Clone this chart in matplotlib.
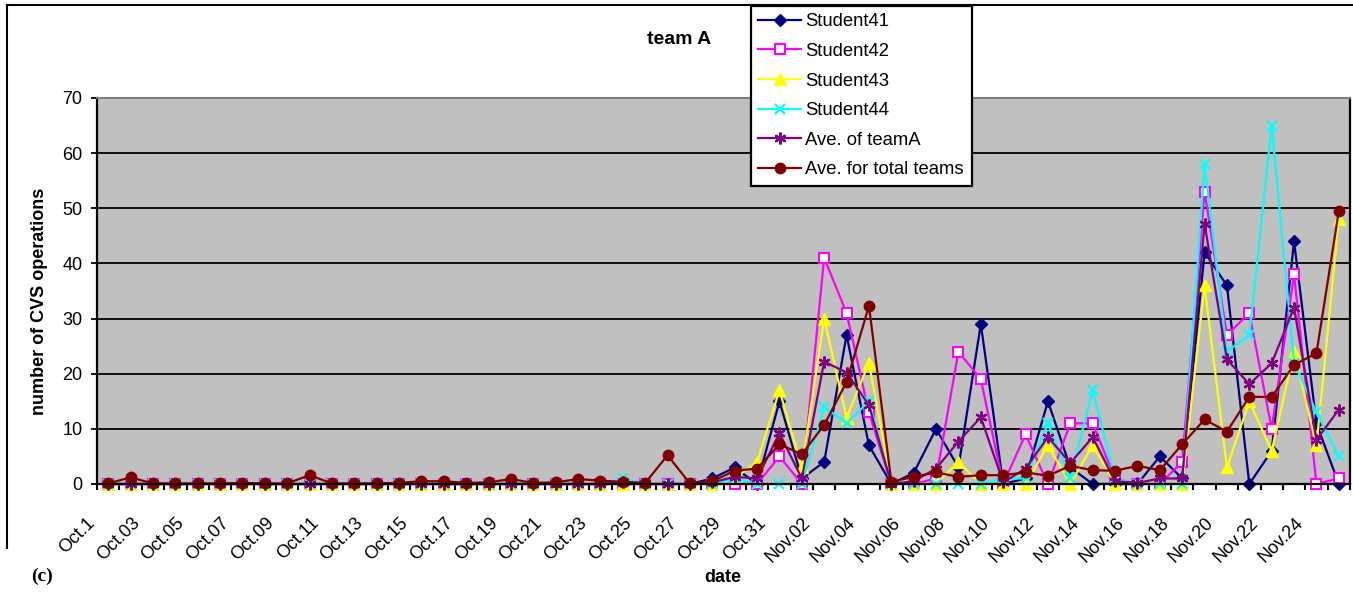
import numpy as np
import matplotlib.pyplot as plt
import matplotlib.transforms as mtransforms
from matplotlib.lines import Line2D

plt.rcParams['font.family'] = ['Liberation Sans', 'DejaVu Sans']

# daily CVS operations, Oct.1 .. Nov.25 (56 days)
student41 = [0, 0, 0, 0, 0, 0, 0, 0, 0, 0, 0, 0, 0, 0, 0, 0, 0, 0, 0, 0,
             0, 0, 0, 0, 0, 0, 0, 1, 3, 0, 15, 1, 4, 27, 7, 0, 2, 10, 3, 29,
             0, 1, 15, 3, 0, 0, 0, 5, 1, 42, 36, 0, 6, 44, 11, 0]
student42 = [0, 0, 0, 0, 0, 0, 0, 0, 0, 0, 0, 0, 0, 0, 0, 0, 0, 0, 0, 0,
             0, 0, 0, 0, 0, 0, 0, 0, 0, 0, 5, 0, 41, 31, 13, 0, 0, 1, 24, 19,
             0, 9, 0, 11, 11, 1, 0, 0, 4, 53, 27, 31, 10, 38, 0, 1]
student43 = [0, 0, 0, 0, 0, 0, 0, 0, 0, 0, 0, 0, 0, 0, 0, 0, 0, 0, 0, 0,
             0, 0, 0, 0, 0, 0, 0, 0, 1, 4, 17, 3, 30, 12, 22, 0, 0, 0, 4, 0,
             0, 0, 7, 0, 7, 0, 0, 0, 0, 36, 3, 15, 6, 24, 7, 48]
student44 = [0, 0, 0, 0, 0, 0, 0, 0, 0, 0, 0, 0, 0, 0, 0, 0, 0, 0, 0, 0,
             0, 0, 0, 1, 0, 0, 0, 0, 1, 0, 0, 0, 14, 11, 15, 0, 0, 0, 0, 0,
             1, 1, 11, 1, 17, 1, 0, 0, 0, 58, 24, 27, 65, 22, 13, 5]
ave_team_a = [0, 0, 0, 0, 0, 0, 0, 0, 0, 0, 0, 0, 0, 0, 0, 0, 0, 0, 0, 0,
              0, 0, 0, 0.3, 0, 0, 0, 0.3, 1.3, 1.0, 9.2, 1.0, 22.2, 20.2, 14.3, 0, 0.5, 2.8, 7.7, 12.1,
              0.3, 2.8, 8.5, 3.8, 8.5, 0.5, 0.2, 1.0, 1.0, 47.2, 22.6, 18.1, 21.9, 32.0, 8.0, 13.5]
ave_total = [0.1, 1.2, 0.1, 0.1, 0.1, 0.1, 0.2, 0.1, 0.1, 1.6, 0.1, 0.1, 0.1, 0.2, 0.5, 0.5, 0.2, 0.3, 0.9, 0.2,
             0.3, 0.9, 0.6, 0.4, 0.2, 5.2, 0.1, 0.5, 2.4, 2.8, 7.2, 5.4, 10.7, 18.5, 32.3, 0.4, 1.3, 2.1, 1.3, 1.6,
             1.6, 2.1, 1.5, 3.3, 2.5, 2.4, 3.3, 2.5, 7.2, 11.7, 9.5, 15.8, 15.8, 21.6, 23.7, 49.5]

# every other day gets a label
date_labels = ['Oct.1', 'Oct.03', 'Oct.05', 'Oct.07', 'Oct.09', 'Oct.11', 'Oct.13',
               'Oct.15', 'Oct.17', 'Oct.19', 'Oct.21', 'Oct.23', 'Oct.25', 'Oct.27',
               'Oct.29', 'Oct.31', 'Nov.02', 'Nov.04', 'Nov.06', 'Nov.08', 'Nov.10',
               'Nov.12', 'Nov.14', 'Nov.16', 'Nov.18', 'Nov.20', 'Nov.22', 'Nov.24']

series = [
    ('Student41', student41, dict(color='#000080', marker='D', ms=6, mfc='#000080', mec='#000080')),
    ('Student42', student42, dict(color='#FF00FF', marker='s', ms=6.5, mfc='white', mec='#FF00FF', mew=1.5)),
    ('Student43', student43, dict(color='#FFFF00', marker='^', ms=8.5, mfc='#FFFF00', mec='#FFFF00')),
    ('Student44', student44, dict(color='#00FFFF', marker='x', ms=7.5, mew=1.6)),
    ('Ave. of teamA', ave_team_a, dict(color='#800080', marker=(6, 2, 0), ms=8.5, mew=1.6)),
    ('Ave. for total teams', ave_total, dict(color='#800000', marker='o', ms=7.5, mfc='#800000', mec='#800000')),
]

W, H = 1353, 608
fig = plt.figure(figsize=(W / 100, H / 100), dpi=100)
ax = fig.add_axes([97 / W, 1 - 484 / H, (1350 - 97) / W, (484 - 98) / H])
ax.set_facecolor('#C0C0C0')

x = np.arange(len(student41))
handles = []
for name, vals, style in series:
    h, = ax.plot(x, vals, lw=1.6, label=name, clip_on=False, **style)
    handles.append(h)

ax.set_xlim(-0.5, len(x) - 0.5)
ax.set_ylim(0, 70)
ax.set_yticks(np.arange(0, 71, 10))
ax.yaxis.grid(True, color='black', lw=1.3)
ax.set_axisbelow(True)
ax.tick_params(axis='y', direction='out', length=4.5, width=1.3, pad=6, labelsize=13)

# tick marks between categories, labels on every other category
ax.set_xticks(np.arange(-0.5, len(x), 1.0), minor=True)
ax.set_xticks(x[::2])
ax.set_xticklabels(date_labels, rotation=45, ha='right', va='center',
                   rotation_mode='anchor', fontsize=13)
ax.tick_params(axis='x', which='major', length=0, pad=26)
ax.tick_params(axis='x', which='minor', direction='out', length=4, width=1.5)
shift = mtransforms.ScaledTranslation(-0.16, 0, fig.dpi_scale_trans)
for lbl in ax.get_xticklabels():
    lbl.set_transform(lbl.get_transform() + shift)

for side in ['left', 'bottom', 'right']:
    ax.spines[side].set_color('black')
    ax.spines[side].set_linewidth(1.6)
ax.spines['top'].set_color('#808080')
ax.spines['top'].set_linewidth(1.5)

fig.text(679 / W, 1 - 40 / H, 'team A', ha='center', va='center',
         fontsize=14, fontweight='bold')
fig.text(40 / W, 1 - 301 / H, 'number of CVS operations', rotation=90,
         ha='center', va='center', fontsize=13, fontweight='bold')
fig.text(723 / W, 1 - 578 / H, 'date', ha='center', va='center',
         fontsize=13, fontweight='bold')
fig.text(42 / W, 1 - 576 / H, '(c)', ha='center', va='center', fontsize=14,
         fontweight='bold', family='Liberation Serif')

# outer chart frame
fig.add_artist(Line2D([7 / W, 7 / W], [1 - 5 / H, 1 - 548 / H], color='black', lw=1.5))
fig.add_artist(Line2D([7 / W, 1], [1 - 5 / H, 1 - 5 / H], color='black', lw=1.5))

leg = fig.legend(handles=handles, loc='upper left',
                 bbox_to_anchor=(751 / W, 1 - 6 / H), fontsize=13.3,
                 frameon=True, fancybox=False, framealpha=1, edgecolor='black',
                 handlelength=2.3, handletextpad=0.25, labelspacing=0.68,
                 borderpad=0.4, borderaxespad=0)
leg.get_frame().set_linewidth(1.6)

fig.savefig('out.png', dpi=100, facecolor='white')
